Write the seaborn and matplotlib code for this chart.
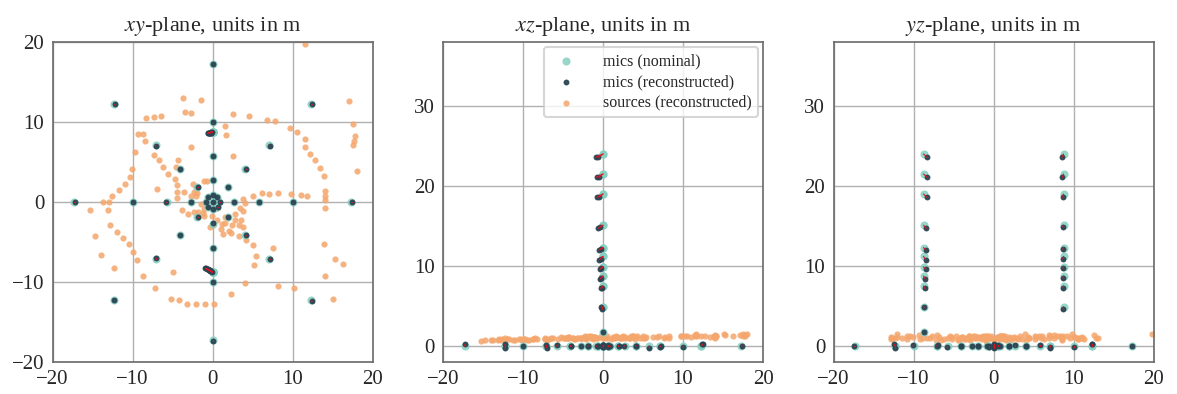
import numpy as np
import pandas as pd
import matplotlib
matplotlib.use("Agg")
import matplotlib.pyplot as plt
import seaborn as sns

# ---------------- data ----------------
# nominal microphone positions (m)
mic_x = [0, 0.85, 0.6, 0, -0.6, -0.85, -0.6, 0, 0.6,
         2.7, 5.75, 10, 17.3, -2.7, -5.75, -10, -17.3,
         0, 0, 0, 0, 0, 0, 0, 0,
         1.9, 4.1, 7.1, 12.3, -1.9, -4.1, -7.1, -12.3,
         1.9, 4.1, 7.1, 12.3, -1.9, -4.1, -7.1, -12.3,
         0, 0, 0, 0, 0, 0, 0, 0, 0, 0, 0,
         0, 0, 0, 0, 0, 0, 0, 0, 0, 0]
mic_y = [0, 0, 0.6, 0.85, 0.6, 0, -0.6, -0.85, -0.6,
         0, 0, 0, 0, 0, 0, 0, 0,
         2.7, 5.75, 10, 17.3, -2.7, -5.75, -10, -17.3,
         1.9, 4.1, 7.1, 12.3, 1.9, 4.1, 7.1, 12.3,
         -1.9, -4.1, -7.1, -12.3, -1.9, -4.1, -7.1, -12.3,
         -8.75, -8.75, -8.75, -8.75, -8.75, -8.75, -8.75, -8.75, -8.75, -8.75, -8.75,
         8.75, 8.75, 8.75, 8.75, 8.75, 8.75, 8.75, 8.75, 8.75, 8.75]
mic_z = [0, 0, 0, 0, 0, 0, 0, 0, 0,
         0, 0, 0, 0, 0, 0, 0, 0,
         0, 0, 0, 0, 0, 0, 0, 0,
         0, 0, 0, 0, 0, 0, 0, 0,
         0, 0, 0, 0, 0, 0, 0, 0,
         1.8, 4.9, 7.5, 8.75, 9.9, 11.2, 12.3, 15.1, 19.0, 21.5, 24.0,
         4.9, 7.5, 8.75, 9.9, 11.2, 12.3, 15.1, 19.0, 21.5, 24.0]

# reconstructed microphone positions (m)
rec_x = [0.05, 0.9, 0.6, 0.05, -0.6, -0.8, -0.6, 0, 0.65,
         2.65, 5.8, 10.05, 17.4, -2.7, -5.8, -10.0, -17.25,
         0, 0, 0, 0.05, 0, 0, 0, 0,
         1.95, 4.15, 7.15, 12.4, -1.85, -4.05, -7.05, -12.2,
         1.95, 4.15, 7.2, 12.45, -1.85, -4.05, -7.1, -12.3,
         -0.05, -0.2, -0.3, -0.35, -0.4, -0.45, -0.5, -0.6, -0.75, -0.8, -0.9,
         -0.1, -0.15, -0.2, -0.25, -0.3, -0.3, -0.4, -0.5, -0.55, -0.6]
rec_y = [0, 0, 0.6, 0.85, 0.6, 0, -0.6, -0.85, -0.6,
         0, 0, 0, 0, 0, 0, 0, 0,
         2.7, 5.75, 10, 17.3, -2.65, -5.8, -10.05, -17.4,
         1.9, 4.1, 7.05, 12.3, 1.9, 4.1, 7.05, 12.3,
         -1.9, -4.1, -7.1, -12.4, -1.9, -4.1, -7.0, -12.3,
         -8.72, -8.65, -8.6, -8.55, -8.5, -8.5, -8.45, -8.4, -8.35, -8.3, -8.3,
         8.7, 8.7, 8.68, 8.68, 8.66, 8.66, 8.65, 8.65, 8.62, 8.6]
rec_z = [0.05, -0.05, 0.1, 0, 0.05, -0.05, 0, 0.05, -0.1,
         0.05, -0.2, -0.15, 0.05, 0.0, 0.1, 0.0, 0.2,
         0.1, 0.15, -0.1, 0.05, 0.0, -0.15, 0.1, 0.0,
         0.0, 0.05, -0.1, 0.2, 0.05, 0.0, -0.2, 0.2,
         0.05, 0.0, -0.05, 0.2, 0.0, 0.05, 0.1, -0.2,
         1.8, 4.85, 7.2, 8.4, 9.6, 10.8, 12.0, 14.7, 18.6, 21.1, 23.6,
         4.6, 7.3, 8.5, 9.7, 10.9, 12.1, 14.9, 18.6, 21.1, 23.6]

# reconstructed source positions (m)
src_x = [11.6, -3.7, -1.5, 17.1, -3.5, -2.7, 2.5, 4.6, -8.3, -7.3,
         -6.5, 6.8, 7.8, 17.5, 1.5, 9.7, 10.5, -9.3, -8.7, 17.8,
         1.7, -8.5, 11.5, 17.7, 17.5, -2.7, 11.5, -9.7, -7.3, 2.5,
         12.2, -6.75, -4.3, 12.75, -6.2, -4.6, -10.1, 13.4, 18.0, -5.6,
         -4.7, 13.9, -10.3, -1.1, -0.7, -11.0, -4.5, -2.1, -7.0, -11.7,
         -4.4, -3.6, -2.3, -2.1, 14.1, 5.0, 6.2, 7.0, 8.2, 9.8,
         11.0, 11.8, 14.1, 14.0, -12.6, -4.4, -2.7, 3.8, 4.0, -13.7,
         -13.0, 14.0, -15.3, -13.1, -3.8, -3.1, -2.3, -1.8, -1.1, -1.2,
         -1.1, 0.5, 3.4, 3.75, -0.1, 0.5, -0.3, 0.1, 1.2, 1.6,
         1.0, 1.3, 2.8, 2.8, 3.5, 3.3, 3.8, 2.1, 2.3, 3.3,
         4.2, -12.8, -12.0, -11.25, -14.7, -10.5, 5.0, 13.9, 7.6, -14.0,
         -9.9, 5.4, 5.2, -9.5, 15.25, 16.3, -12.3, -5.0, -8.7, 14.0,
         4.1, 8.2, 10.2, -7.2, 2.3, -5.2, -4.25, -3.2, -2.1, -1.0,
         0.2, 15.1, -2.5, -1.9, -0.7, 1.5, 2.4, -1.5]
src_y = [19.75, 13.0, 12.75, 12.6, 11.25, 11.1, 11.0, 10.7, 10.55, 10.6,
         10.75, 10.2, 10.1, 9.8, 9.5, 9.2, 8.7, 8.5, 8.5, 8.3,
         8.4, 7.6, 7.9, 7.6, 7.1, 6.9, 6.9, 6.3, 5.9, 5.7,
         6.0, 5.2, 5.25, 5.2, 4.4, 4.4, 4.1, 4.25, 3.9, 3.5,
         2.9, 3.3, 3.1, 2.6, 2.6, 2.2, 2.1, 1.9, 1.6, 1.5,
         1.3, 1.3, 1.2, 0.7, 1.4, 0.8, 1.1, 1.0, 1.1, 1.0,
         0.9, 0.8, 0.8, 0.25, 0.8, 0.5, 0.7, 0.4, -0.1, 0.0,
         0.0, -0.7, -1.0, -1.0, -1.0, -1.5, -1.3, -1.3, -0.9, -1.4,
         -1.7, -0.8, -0.75, -1.1, -1.8, -2.25, -3.1, -2.9, -2.8, -2.6,
         -3.4, -4.0, -1.5, -2.3, -2.3, -2.9, -3.1, -3.6, -3.9, -4.3,
         -4.75, -2.9, -3.7, -4.5, -4.3, -5.25, -5.4, -5.3, -5.75, -6.6,
         -6.2, -6.8, -7.9, -7.25, -7.1, -7.7, -8.3, -8.8, -9.2, -9.3,
         -10.1, -10.5, -10.8, -10.8, -11.5, -12.1, -12.3, -12.75, -12.8, -12.8,
         -12.7, -12.1, 2.2, 1.1, -0.5, -1.9, -2.9, -0.3]
src_z = [1.45, 0.95, 1.0, 1.35, 0.9, 1.05, 1.1, 1.05, 0.85, 0.9,
         0.95, 1.15, 1.1, 1.5, 1.0, 1.2, 1.3, 0.8, 0.9, 1.2,
         1.1, 0.95, 1.25, 1.4, 1.3, 1.0, 1.35, 0.85, 1.0, 1.2,
         1.2, 0.85, 1.1, 1.3, 0.95, 1.0, 0.75, 1.15, 1.45, 0.9,
         1.05, 1.25, 0.9, 1.15, 1.0, 0.8, 0.95, 1.1, 0.8, 0.85,
         1.0, 0.9, 1.2, 0.95, 1.3, 1.0, 1.1, 1.2, 0.95, 1.25,
         1.1, 1.3, 1.2, 1.05, 0.9, 1.15, 1.0, 1.1, 0.9, 0.75,
         0.85, 1.3, 0.65, 0.7, 1.05, 0.95, 1.1, 1.2, 1.0, 0.9,
         1.15, 1.3, 1.0, 1.2, 1.05, 0.95, 1.25, 1.1, 1.0, 1.2,
         0.9, 1.1, 1.15, 0.95, 1.2, 1.05, 1.3, 0.95, 1.15, 1.0,
         1.2, 0.8, 0.9, 0.75, 0.7, 0.85, 1.25, 1.15, 1.05, 0.8,
         0.9, 1.15, 0.95, 0.8, 1.35, 1.25, 0.95, 1.05, 0.85, 1.4,
         1.1, 1.2, 1.3, 0.9, 1.0, 1.1, 0.95, 1.05, 0.9, 1.1,
         1.0, 1.45, 1.05, 1.15, 0.95, 1.1, 1.0, 1.2]

panel_titles = ["$xy$-plane, units in m", "$xz$-plane, units in m", "$yz$-plane, units in m"]
series_labels = ["mics (nominal)", "mics (reconstructed)", "sources (reconstructed)"]
x_ticks = [-20, -10, 0, 10, 20]
y_ticks_xy = [-20, -10, 0, 10, 20]
y_ticks_z = [0, 10, 20, 30]

# ---------------- style ----------------
sns.set_theme(style="whitegrid")
plt.rcParams["font.family"] = ["Liberation Serif", "DejaVu Serif"]
plt.rcParams["mathtext.fontset"] = "stix"
plt.rcParams["axes.unicode_minus"] = True

c_nom = "#86cfc1"
c_rec = "#2b4352"
c_src = "#f5a66c"
c_err = "#e0141e"

mics_nom = pd.DataFrame({"x": mic_x, "y": mic_y, "z": mic_z})
mics_rec = pd.DataFrame({"x": rec_x, "y": rec_y, "z": rec_z})
sources = pd.DataFrame({"x": src_x, "y": src_y, "z": src_z})

fig = plt.figure(figsize=(11.77, 3.94), dpi=100)
W, H = 1177, 394
lefts = [52.5, 443, 833.5]
planes = [("x", "y"), ("x", "z"), ("y", "z")]

for i, (a, b) in enumerate(planes):
    ax = fig.add_axes([lefts[i] / W, 32 / H, 320 / W, 320 / H])
    sns.scatterplot(data=mics_nom, x=a, y=b, ax=ax, color=c_nom, s=34, alpha=0.85,
                    linewidth=0, label=series_labels[0], zorder=2)
    sns.scatterplot(data=mics_rec, x=a, y=b, ax=ax, color=c_rec, s=18, alpha=0.95,
                    linewidth=0, label=series_labels[1], zorder=3)
    sns.scatterplot(data=sources, x=a, y=b, ax=ax, color=c_src, s=20, alpha=0.85,
                    linewidth=0, label=series_labels[2], zorder=1.5)
    for k in range(len(mic_x)):
        ax.plot([mics_nom[a][k], mics_rec[a][k]], [mics_nom[b][k], mics_rec[b][k]],
                color=c_err, lw=0.8, zorder=4)
    ax.set_xlim(-20, 20)
    ax.set_xticks(x_ticks)
    if b == "y":
        ax.set_ylim(-20, 20)
        ax.set_yticks(y_ticks_xy)
    else:
        ax.set_ylim(-2, 38)
        ax.set_yticks(y_ticks_z)
    ax.set_xlabel("")
    ax.set_ylabel("")
    ax.set_title(panel_titles[i], fontsize=16, pad=8)
    ax.tick_params(labelsize=15, length=0, pad=6)
    ax.grid(True, color="#b0b0b0", lw=1.0)
    for sp in ax.spines.values():
        sp.set_color("#6a6a6a")
        sp.set_linewidth(1.2)
    if i == 1:
        leg = ax.legend(loc="upper right", fontsize=11.5, frameon=True, framealpha=0.8,
                        edgecolor="#cccccc", borderpad=0.4, handletextpad=1.3,
                        labelspacing=0.3, borderaxespad=0.3)
        leg.get_frame().set_linewidth(1.5)
    else:
        lg = ax.get_legend()
        if lg is not None:
            lg.remove()

fig.savefig("out.png", dpi=100)
